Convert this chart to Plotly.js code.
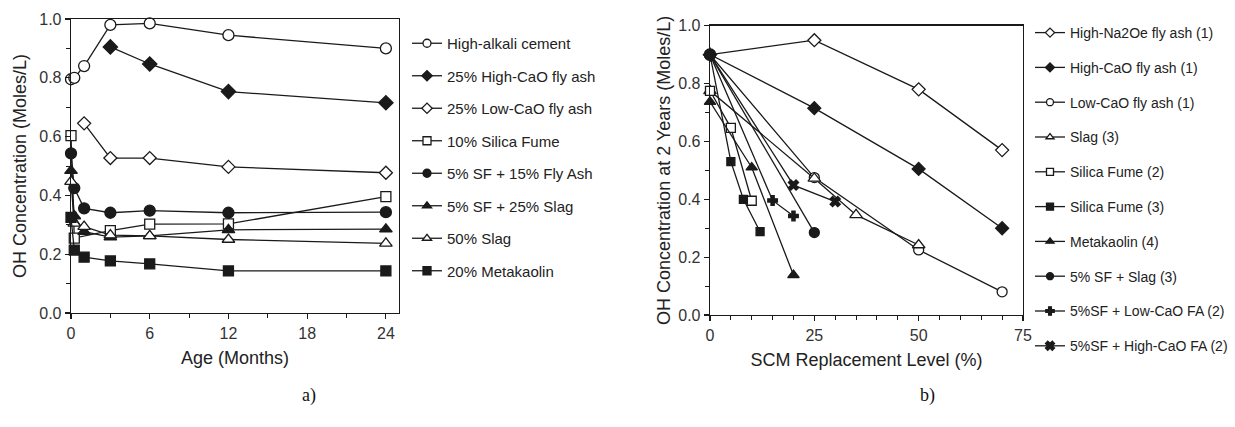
<!DOCTYPE html>
<html>
<head>
<meta charset="utf-8">
<script src="https://cdn.plot.ly/plotly-3.0.1.min.js"></script>
<style>html,body{margin:0;padding:0;background:#fff;}#chart{width:1235px;height:427px;}</style>
</head>
<body>
<div id="chart"></div>
<script>
// ---------- Panel a) : OH concentration vs age ----------
const ageNames = ["High-alkali cement","25% High-CaO fly ash","25% Low-CaO fly ash","10% Silica Fume",
  "5% SF + 15% Fly Ash","5% SF + 25% Slag","50% Slag","20% Metakaolin"];
const ageHighAlkaliX = [0, 0.25, 1, 3, 6, 12, 24];
const ageHighAlkaliY = [0.795, 0.80, 0.84, 0.98, 0.985, 0.945, 0.90];
const ageHighCaOX = [3, 6, 12, 24];
const ageHighCaOY = [0.905, 0.847, 0.753, 0.715];
const ageLowCaOX = [1, 3, 6, 12, 24];
const ageLowCaOY = [0.645, 0.527, 0.527, 0.497, 0.477];
const ageSilicaFumeX = [0, 0.25, 3, 6, 12, 24];
const ageSilicaFumeY = [0.603, 0.255, 0.28, 0.302, 0.303, 0.396];
const ageSFFlyAshX = [0, 0.25, 1, 3, 6, 12, 24];
const ageSFFlyAshY = [0.543, 0.425, 0.356, 0.341, 0.348, 0.341, 0.343];
const ageSFSlagX = [0, 0.25, 1, 3, 6, 12, 24];
const ageSFSlagY = [0.484, 0.33, 0.277, 0.258, 0.262, 0.283, 0.285];
const ageSlagX = [0, 0.25, 1, 3, 6, 12, 24];
const ageSlagY = [0.447, 0.305, 0.294, 0.265, 0.262, 0.25, 0.237];
const ageMetakaolinX = [0, 0.25, 1, 3, 6, 12, 24];
const ageMetakaolinY = [0.325, 0.214, 0.19, 0.177, 0.167, 0.143, 0.143];

// ---------- Panel b) : OH concentration at 2 years vs SCM level ----------
const scmNames = ["High-Na2Oe fly ash (1)","High-CaO fly ash (1)","Low-CaO fly ash (1)","Slag (3)",
  "Silica Fume (2)","Silica Fume (3)","Metakaolin (4)","5% SF + Slag (3)",
  "5%SF + Low-CaO FA (2)","5%SF + High-CaO FA (2)"];
const scmHighNaX = [0, 25, 50, 70];
const scmHighNaY = [0.90, 0.95, 0.78, 0.57];
const scmHighCaOX = [0, 25, 50, 70];
const scmHighCaOY = [0.90, 0.715, 0.505, 0.30];
const scmLowCaOX = [0, 25, 50, 70];
const scmLowCaOY = [0.90, 0.475, 0.225, 0.08];
const scmSlagX = [0, 25, 35, 50];
const scmSlagY = [0.775, 0.472, 0.346, 0.242];
const scmSF2X = [0, 5, 10];
const scmSF2Y = [0.775, 0.647, 0.395];
const scmSF3X = [0, 5, 8, 12];
const scmSF3Y = [0.90, 0.53, 0.40, 0.288];
const scmMetakaolinX = [0, 10, 20];
const scmMetakaolinY = [0.737, 0.51, 0.138];
const scmSFSlagX = [0, 25];
const scmSFSlagY = [0.90, 0.285];
const scmSFLowCaOX = [0, 15, 20];
const scmSFLowCaOY = [0.90, 0.396, 0.342];
const scmSFHighCaOX = [0, 20, 30];
const scmSFHighCaOY = [0.90, 0.449, 0.392];

const FONT = "Liberation Sans, Arial, Helvetica, sans-serif";
const INK = "#1a1a1a";

function mk(sym, filled, size) {
  return {symbol: sym, size: size, color: filled ? INK : "#ffffff", line: {color: INK, width: 1.3}};
}
const data = [];
// each series: plotted trace (no legend) + a legend-only entry with a small key marker
function add(name, x, y, sym, filled, size, keySize, axes, legend, grp) {
  data.push({type: "scatter", mode: "lines+markers", name: name, x: x, y: y,
    xaxis: axes[0], yaxis: axes[1], showlegend: false, legendgroup: grp,
    line: {color: INK, width: 1.3}, marker: mk(sym, filled, size), cliponaxis: false});
  data.push({type: "scatter", mode: "lines+markers", name: name, x: [null], y: [null],
    xaxis: axes[0], yaxis: axes[1], legend: legend, legendgroup: grp,
    line: {color: INK, width: 1.3}, marker: mk(sym, filled, keySize)});
}
const A = ["x", "y"], B = ["x2", "y2"];
add(ageNames[0], ageHighAlkaliX, ageHighAlkaliY, "circle", false, 11, 8, A, "legend", "a0");
add(ageNames[1], ageHighCaOX, ageHighCaOY, "diamond", true, 11, 8, A, "legend", "a1");
add(ageNames[2], ageLowCaOX, ageLowCaOY, "diamond", false, 10, 8, A, "legend", "a2");
add(ageNames[3], ageSilicaFumeX, ageSilicaFumeY, "square", false, 10, 8, A, "legend", "a3");
add(ageNames[4], ageSFFlyAshX, ageSFFlyAshY, "circle", true, 11, 8, A, "legend", "a4");
add(ageNames[5], ageSFSlagX, ageSFSlagY, "triangle-up", true, 11, 8, A, "legend", "a5");
add(ageNames[6], ageSlagX, ageSlagY, "triangle-up", false, 11, 8, A, "legend", "a6");
add(ageNames[7], ageMetakaolinX, ageMetakaolinY, "square", true, 10, 8, A, "legend", "a7");

add(scmNames[0], scmHighNaX, scmHighNaY, "diamond", false, 10, 7, B, "legend2", "b0");
add(scmNames[1], scmHighCaOX, scmHighCaOY, "diamond", true, 10, 7, B, "legend2", "b1");
add(scmNames[2], scmLowCaOX, scmLowCaOY, "circle", false, 10, 7, B, "legend2", "b2");
add(scmNames[3], scmSlagX, scmSlagY, "triangle-up", false, 11, 7, B, "legend2", "b3");
add(scmNames[4], scmSF2X, scmSF2Y, "square", false, 9, 7, B, "legend2", "b4");
add(scmNames[5], scmSF3X, scmSF3Y, "square", true, 8, 7, B, "legend2", "b5");
add(scmNames[6], scmMetakaolinX, scmMetakaolinY, "triangle-up", true, 10, 7, B, "legend2", "b6");
add(scmNames[7], scmSFSlagX, scmSFSlagY, "circle", true, 10, 7, B, "legend2", "b7");
add(scmNames[8], scmSFLowCaOX, scmSFLowCaOY, "cross", true, 8, 7, B, "legend2", "b8");
add(scmNames[9], scmSFHighCaOX, scmSFHighCaOY, "x", true, 9, 8, B, "legend2", "b9");

function axis(extra) {
  return Object.assign({
    showgrid: false, zeroline: false, showline: true, linecolor: INK, linewidth: 1.3,
    mirror: true, ticks: "outside", ticklen: 5, tickwidth: 1.2, tickcolor: INK,
    tickfont: {family: FONT, size: 16, color: "#333"}
  }, extra);
}
const TF = {family: FONT, size: 18, color: "#222"};
const layout = {
  width: 1235, height: 427,
  margin: {l: 0, r: 0, t: 0, b: 0, autoexpand: false},
  paper_bgcolor: "#fff", plot_bgcolor: "#fff",
  font: {family: FONT, color: "#222"},
  showlegend: true,
  xaxis: axis({domain: [71/1235, 399/1235], range: [0, 25], tickvals: [0, 6, 12, 18, 24],
    minor: {ticks: "outside", ticklen: 4, tickwidth: 1, tickcolor: INK, tickvals: [3, 9, 15, 21]},
    anchor: "y", title: {text: "Age (Months)", font: TF, standoff: 11}}),
  yaxis: axis({domain: [1 - 313/427, 1 - 19/427], range: [0, 1], dtick: 0.2, tickformat: ".1f",
    minor: {ticks: "outside", ticklen: 4, tickwidth: 1, tickcolor: INK, dtick: 0.1},
    anchor: "x", title: {text: "OH Concentration (Moles/L)", font: TF, standoff: 8}}),
  xaxis2: axis({domain: [710/1235, 1023/1235], range: [0, 75], tickvals: [0, 25, 50, 75],
    minor: {ticks: "outside", ticklen: 4, tickwidth: 1, tickcolor: INK, dtick: 5},
    anchor: "y2", title: {text: "SCM Replacement Level (%)", font: TF, standoff: 11}}),
  yaxis2: axis({domain: [1 - 315/427, 1 - 25.7/427], range: [0, 1], dtick: 0.2, tickformat: ".1f",
    minor: {ticks: "outside", ticklen: 4, tickwidth: 1, tickcolor: INK, dtick: 0.1},
    anchor: "x2", title: {text: "OH Concentration at 2 Years (Moles/L)", font: TF, standoff: 3}}),
  legend: {x: 407/1235, xanchor: "left", y: 1 - 27/427, yanchor: "top",
    font: {family: FONT, size: 15, color: "#222"}, tracegroupgap: 10, bgcolor: "rgba(0,0,0,0)"},
  legend2: {x: 1030/1235, xanchor: "left", y: 1 - 17/427, yanchor: "top",
    font: {family: FONT, size: 14, color: "#222"}, tracegroupgap: 13.6, bgcolor: "rgba(0,0,0,0)"},
  annotations: [
    {text: "a)", xref: "paper", yref: "paper", x: 300/1235, y: 1 - 408/427, showarrow: false,
     font: {family: "Liberation Serif, Times New Roman, serif", size: 18, color: "#111"}},
    {text: "b)", xref: "paper", yref: "paper", x: 937/1235, y: 1 - 408/427, showarrow: false,
     font: {family: "Liberation Serif, Times New Roman, serif", size: 18, color: "#111"}}
  ]
};

Plotly.newPlot("chart", data, layout, {displayModeBar: false, staticPlot: true});
</script>
</body>
</html>
